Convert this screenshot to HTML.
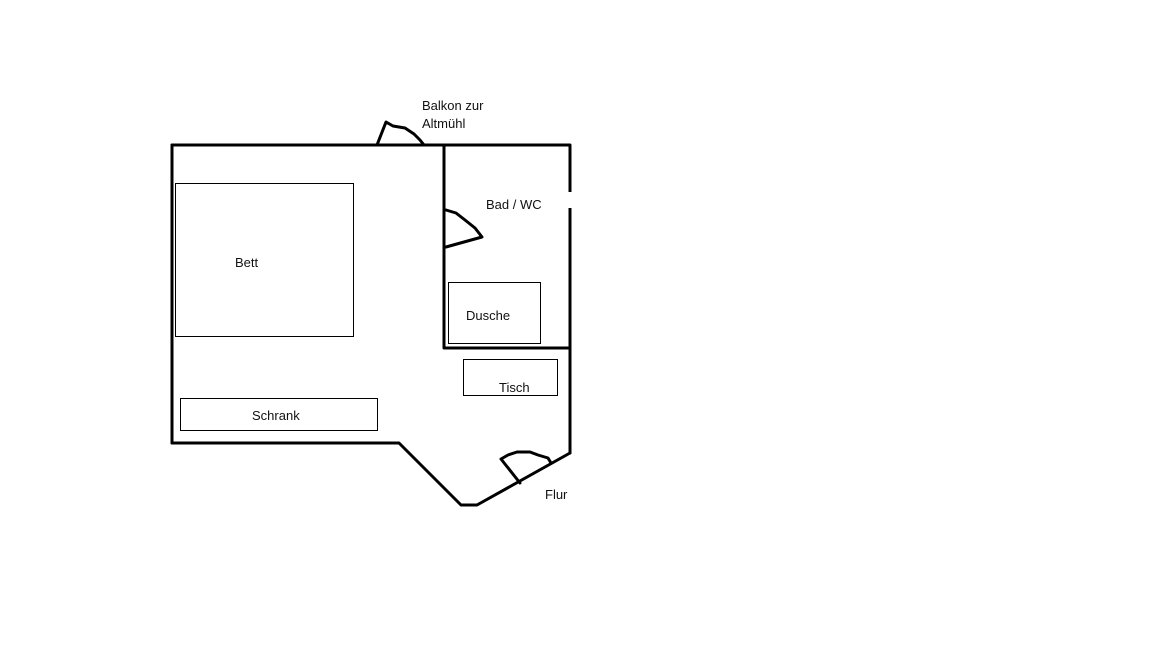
<!DOCTYPE html>
<html><head><meta charset="utf-8"><style>
html,body{margin:0;padding:0;background:#fff;width:1152px;height:648px;overflow:hidden}
text{font-family:"Liberation Sans","DejaVu Sans",sans-serif;font-size:13px;fill:#111}
</style></head><body>
<svg width="1152" height="648" viewBox="0 0 1152 648" xmlns="http://www.w3.org/2000/svg">
<g fill="none" stroke="#000" stroke-width="3" stroke-linejoin="round" stroke-linecap="round">
<polyline points="172,145 570,145 570,453"/>
<line x1="172" y1="145" x2="172" y2="443"/>
<polyline points="172,443 399,443 461,505 477,505 570,453"/>
<polyline points="444,145 444,348 570,348"/>
<!-- balcony door -->
<polyline points="377,145 386,122 393,126 405,128 414,134 420,140 424,145"/>
<!-- bath door -->
<polyline points="446,210 456,213 465,220 475,228 482,237 446,247"/>
<!-- entry door -->
<polyline points="520,483 501,459 508,455 517,452 530,452 538,455 548,458 551,463"/>
</g>
<line x1="570" y1="192" x2="570" y2="208" stroke="#fff" stroke-width="4"/>
<g fill="none" stroke="#000" stroke-width="1">
<rect x="175.5" y="183.5" width="178" height="153"/>
<rect x="180.5" y="398.5" width="197" height="32"/>
<rect x="448.5" y="282.5" width="92" height="61"/>
<rect x="463.5" y="359.5" width="94" height="36"/>
</g>
<text x="235" y="267">Bett</text>
<text x="252" y="420">Schrank</text>
<text x="466" y="320">Dusche</text>
<text x="499" y="392">Tisch</text>
<text x="486" y="209">Bad / WC</text>
<text x="422" y="110">Balkon zur</text>
<text x="422" y="128">Altmühl</text>
<text x="545" y="499">Flur</text>
</svg>
</body></html>
